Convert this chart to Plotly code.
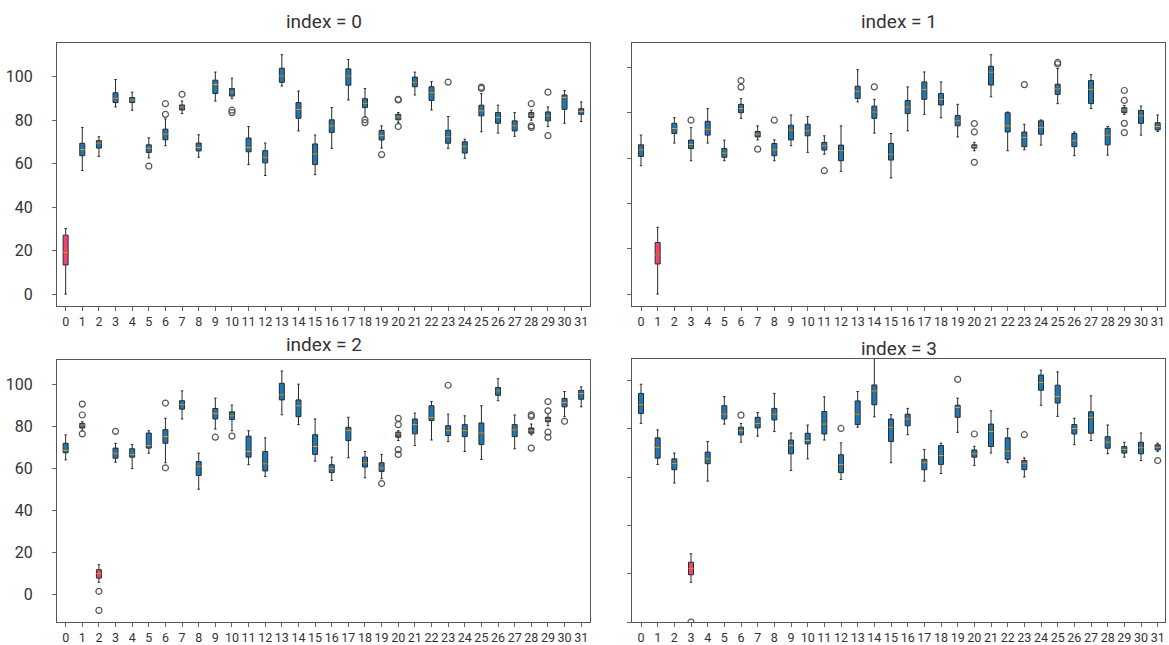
import plotly.graph_objects as go

cats = list(range(32))
tick_text = [str(c) for c in cats]
titles = ["index = 0", "index = 1", "index = 2", "index = 3"]

# ---- panel 0 ----
p0_q1 = [13.4, 63.6, 67.1, 88.0, 88.0, 65.1, 70.9, 84.6, 65.8, 92.2, 91.0, 65.4, 60.3, 97.3, 80.8, 59.5, 74.3, 96.0, 85.7, 70.8, 80.1, 95.3, 89.0, 69.3, 64.8, 81.9, 78.5, 75.0, 81.1, 79.6, 84.9, 82.6]
p0_med = [19.2, 66.4, 69.4, 90.0, 89.2, 67.0, 73.5, 86.0, 67.4, 96.3, 92.8, 67.4, 62.9, 100.2, 84.9, 64.4, 77.3, 100.2, 87.7, 72.8, 81.4, 97.4, 92.5, 72.3, 67.7, 84.2, 81.1, 77.3, 82.2, 81.9, 90.3, 83.9]
p0_q3 = [27.1, 69.3, 70.5, 92.5, 90.3, 68.6, 75.8, 86.9, 69.4, 98.3, 94.5, 71.7, 65.9, 103.8, 88.0, 69.0, 80.1, 103.5, 89.8, 75.2, 82.6, 99.7, 95.3, 75.3, 70.0, 86.8, 83.4, 79.6, 83.4, 83.7, 91.5, 85.2]
p0_lo = [0.0, 56.8, 63.3, 86.0, 84.5, 62.6, 68.2, 83.0, 62.9, 88.7, 89.8, 59.5, 54.5, 95.6, 75.0, 54.9, 67.0, 89.2, 81.6, 67.1, 78.8, 91.5, 84.6, 67.0, 62.4, 74.6, 74.0, 72.5, 79.9, 77.0, 78.5, 79.3]
p0_hi = [30.1, 76.6, 72.3, 98.6, 92.8, 71.8, 80.5, 88.7, 73.2, 102.0, 99.2, 77.0, 69.4, 110.0, 93.3, 73.1, 85.7, 107.8, 94.5, 77.3, 83.4, 102.0, 97.6, 81.6, 71.2, 92.1, 86.8, 83.4, 84.5, 86.0, 93.5, 88.3]
p0_out_x = [5, 6, 6, 7, 10, 10, 18, 18, 19, 20, 20, 20, 23, 25, 25, 28, 28, 28, 29, 29]
p0_out_y = [58.8, 82.6, 87.5, 91.8, 84.5, 83.4, 80.1, 78.8, 64.1, 89.5, 89.2, 77.0, 97.4, 95.1, 94.5, 87.5, 77.3, 76.6, 92.8, 72.8]

# ---- panel 1 ----
p1_q1 = [60.8, 13.3, 70.9, 64.3, 70.2, 60.4, 80.1, 69.4, 61.1, 68.1, 69.9, 63.6, 58.9, 86.4, 77.6, 59.2, 79.7, 86.0, 83.5, 74.3, 64.5, 92.3, 71.6, 65.1, 70.6, 88.2, 65.1, 84.1, 65.9, 80.1, 75.4, 72.5]
p1_med = [63.7, 17.3, 73.1, 66.1, 72.8, 62.3, 81.9, 70.6, 63.7, 72.5, 72.1, 65.5, 63.3, 89.6, 80.4, 61.8, 82.6, 90.4, 86.0, 76.5, 65.2, 98.0, 74.3, 69.2, 73.5, 90.6, 67.7, 90.4, 70.2, 81.3, 78.7, 74.0]
p1_q3 = [65.9, 22.8, 75.4, 68.0, 76.3, 64.3, 83.8, 71.8, 66.5, 74.6, 75.0, 67.0, 65.8, 91.8, 83.0, 66.5, 85.5, 93.7, 88.6, 78.9, 65.9, 100.6, 80.1, 71.6, 76.5, 92.7, 70.9, 94.3, 73.2, 82.3, 81.1, 75.7]
p1_lo = [56.7, 0.0, 66.7, 58.9, 66.7, 58.9, 77.6, 68.1, 58.9, 65.5, 62.6, 61.8, 54.2, 84.9, 71.1, 51.3, 72.1, 79.4, 77.9, 69.4, 63.3, 87.1, 63.3, 63.7, 65.8, 84.1, 61.1, 82.0, 61.4, 79.4, 70.2, 71.8]
p1_hi = [70.2, 29.5, 77.9, 73.5, 81.9, 68.0, 86.3, 74.3, 68.1, 79.1, 78.4, 69.9, 74.3, 99.1, 86.0, 70.9, 91.5, 98.1, 93.7, 83.8, 67.0, 105.7, 80.4, 75.0, 76.9, 99.6, 71.6, 96.9, 74.0, 83.3, 83.0, 79.1]
p1_out_x = [3, 6, 6, 7, 8, 11, 14, 20, 20, 20, 23, 25, 25, 29, 29, 29, 29]
p1_out_y = [76.8, 94.3, 91.4, 64.0, 76.8, 54.5, 91.5, 75.3, 71.6, 58.2, 92.5, 102.3, 101.6, 89.9, 85.5, 75.4, 71.3]

# ---- panel 2 ----
p2_q1 = [67.5, 79.3, 7.7, 64.9, 65.4, 69.7, 72.0, 88.3, 56.7, 83.6, 83.3, 65.4, 58.8, 92.7, 84.7, 66.7, 58.0, 73.3, 60.7, 58.6, 74.9, 76.5, 82.8, 75.7, 75.2, 71.4, 94.9, 75.2, 76.8, 82.3, 89.4, 93.0]
p2_med = [68.6, 80.7, 9.8, 67.3, 66.7, 70.9, 75.2, 90.4, 61.1, 86.3, 85.1, 68.1, 62.2, 95.1, 89.9, 70.5, 59.9, 78.0, 62.7, 60.2, 76.5, 80.9, 84.4, 78.0, 78.0, 76.9, 97.0, 78.4, 78.0, 83.4, 91.5, 95.7]
p2_q3 = [72.0, 81.5, 11.7, 69.7, 69.4, 76.9, 78.5, 92.3, 63.3, 88.6, 87.0, 75.4, 68.1, 100.6, 92.7, 76.1, 61.8, 79.6, 65.4, 62.7, 77.3, 83.6, 89.9, 80.4, 80.9, 81.7, 98.6, 80.9, 79.3, 84.4, 93.4, 97.3]
p2_lo = [64.1, 78.0, 5.7, 63.0, 59.9, 67.3, 62.7, 83.6, 50.1, 78.8, 78.0, 61.8, 56.2, 85.6, 80.9, 63.5, 54.3, 65.1, 55.6, 55.1, 73.3, 70.9, 73.6, 72.8, 68.1, 64.3, 92.3, 69.4, 76.0, 80.4, 84.7, 89.4]
p2_hi = [76.0, 82.3, 14.1, 72.0, 71.4, 78.0, 83.9, 97.0, 67.3, 93.5, 90.2, 78.0, 74.6, 106.5, 100.2, 83.6, 65.4, 84.4, 68.1, 66.7, 78.0, 86.4, 91.9, 85.9, 85.1, 89.9, 102.8, 85.5, 81.2, 86.3, 96.7, 98.9]
p2_out_x = [1, 1, 1, 2, 2, 3, 6, 6, 9, 10, 19, 20, 20, 20, 20, 23, 28, 28, 28, 29, 29, 29, 29, 30]
p2_out_y = [90.7, 85.5, 76.5, 1.4, -7.7, 77.7, 91.2, 60.3, 74.9, 75.4, 52.8, 83.9, 80.9, 69.0, 66.7, 99.7, 85.6, 84.8, 69.7, 91.9, 87.5, 77.3, 74.9, 82.5]

# ---- panel 3 ----
p3_q1 = [86.4, 67.9, 63.1, 19.6, 65.6, 84.1, 77.5, 80.4, 83.7, 69.7, 73.8, 77.9, 61.9, 81.8, 90.0, 74.8, 81.3, 63.1, 65.3, 84.8, 68.3, 72.7, 67.4, 63.1, 96.0, 90.7, 77.9, 78.2, 72.0, 70.0, 69.7, 71.3]
p3_med = [90.0, 72.4, 65.6, 22.1, 67.6, 86.1, 79.3, 82.3, 86.1, 73.1, 75.2, 82.0, 65.3, 86.1, 95.7, 80.7, 84.1, 66.0, 69.0, 88.9, 69.7, 78.9, 70.8, 65.8, 99.2, 93.4, 80.2, 84.8, 74.5, 71.5, 72.2, 72.4]
p3_q3 = [94.7, 76.3, 67.6, 24.8, 70.4, 89.6, 80.7, 84.8, 88.5, 75.4, 78.2, 87.2, 69.3, 91.6, 98.2, 84.1, 86.1, 67.4, 73.1, 89.8, 71.3, 82.0, 76.3, 66.9, 102.3, 98.1, 81.8, 87.1, 76.8, 72.7, 74.5, 73.4]
p3_lo = [82.3, 65.3, 57.6, 16.5, 58.4, 82.0, 74.5, 77.0, 78.9, 62.8, 67.6, 75.4, 59.1, 80.7, 85.0, 66.0, 77.6, 58.4, 61.5, 78.6, 64.9, 70.0, 66.0, 60.1, 89.8, 85.2, 73.5, 75.2, 69.7, 68.3, 66.9, 70.6]
p3_hi = [98.5, 79.6, 70.0, 28.3, 74.8, 93.4, 82.3, 86.8, 94.7, 78.3, 81.6, 93.3, 74.2, 95.5, 110.0, 85.9, 88.5, 71.5, 74.1, 92.7, 72.8, 87.5, 80.2, 68.0, 104.3, 103.6, 84.4, 93.7, 81.6, 74.5, 78.3, 74.1]
p3_out_x = [3, 6, 12, 19, 20, 23, 31]
p3_out_y = [0.0, 85.7, 80.2, 100.5, 77.9, 77.6, 66.9]

panels = [
    (p0_q1, p0_med, p0_q3, p0_lo, p0_hi, p0_out_x, p0_out_y),
    (p1_q1, p1_med, p1_q3, p1_lo, p1_hi, p1_out_x, p1_out_y),
    (p2_q1, p2_med, p2_q3, p2_lo, p2_hi, p2_out_x, p2_out_y),
    (p3_q1, p3_med, p3_q3, p3_lo, p3_hi, p3_out_x, p3_out_y),
]

W, H = 1169, 645
# plot areas in pixels (left, right, top, bottom)
areas = [(57, 590, 43, 308), (632, 1165, 43, 308), (57, 590, 362, 626), (632, 1165, 361, 626)]
xranges = [[-0.52, 31.53], [-0.54, 31.44], [-0.52, 31.53], [-0.54, 31.44]]
yranges = [[-5.5, 115.5], [-5.3, 111.0], [-13.3, 111.85], [0.0, 109.05]]
title_y_px = [22, 22, 347, 351]

BLUE = "#1f77b4"
RED = "#f0456f"
EDGE = "#2a2a2a"
MED = "#f5a31c"
BW = 0.3

fig = go.Figure()
layout = dict(
    width=W, height=H, margin=dict(l=0, r=0, t=0, b=0),
    paper_bgcolor="white", plot_bgcolor="white", showlegend=False,
    boxmode="overlay", font=dict(family="Roboto, Noto Sans, sans-serif", color="#333333"),
    annotations=[],
)

for k, (q1, med, q3, lo, hi, ox, oy) in enumerate(panels):
    sfx = "" if k == 0 else str(k + 1)
    xa, ya = "x" + sfx, "y" + sfx
    for idxs, col in (([c for c in cats if c != k], BLUE), ([k], RED)):
        fig.add_trace(go.Box(
            x=idxs,
            q1=[q1[i] for i in idxs], median=[med[i] for i in idxs], q3=[q3[i] for i in idxs],
            lowerfence=[lo[i] for i in idxs], upperfence=[hi[i] for i in idxs],
            width=BW, whiskerwidth=0.5, fillcolor=col,
            line=dict(color=EDGE, width=1), boxpoints=False,
            xaxis=xa, yaxis=ya, hoverinfo="skip",
        ))
    mx, my = [], []
    for i in cats:
        mx += [i - BW / 2, i + BW / 2, None]
        my += [med[i], med[i], None]
    fig.add_trace(go.Scatter(x=mx, y=my, mode="lines", line=dict(color=MED, width=1),
                             xaxis=xa, yaxis=ya, hoverinfo="skip"))
    fig.add_trace(go.Scatter(x=ox, y=oy, mode="markers",
                             marker=dict(symbol="circle-open", size=6, color="#555555", line=dict(width=1.2)),
                             xaxis=xa, yaxis=ya, hoverinfo="skip"))

    l, r, t, b = areas[k]
    axis_common = dict(showline=True, linecolor="#555555", linewidth=1, mirror=True,
                       showgrid=False, zeroline=False, ticks="outside", ticklen=4,
                       tickcolor="#666666", tickwidth=1)
    layout["xaxis" + sfx] = dict(
        domain=[l / W, r / W], anchor=ya, range=xranges[k],
        tickmode="array", tickvals=cats, ticktext=tick_text, tickangle=0,
        tickfont=dict(size=12.5, color="#333333"), **axis_common)
    layout["yaxis" + sfx] = dict(
        domain=[1 - b / H, 1 - t / H], anchor=xa, range=yranges[k],
        tickmode="array", tickvals=[0, 20, 40, 60, 80, 100],
        showticklabels=(k % 2 == 0), tickfont=dict(size=16, color="#333333"),
        ticklabelstandoff=16, **axis_common)
    layout["annotations"].append(dict(
        text=titles[k], xref="paper", yref="paper", x=(l + r) / 2 / W, y=1 - title_y_px[k] / H,
        xanchor="center", yanchor="middle", showarrow=False, font=dict(size=19, color="#333333")))

fig.update_layout(**layout)
fig.write_html("out.html", config={"displayModeBar": False},
               post_script="document.body.style.margin='0px';document.body.style.overflow='hidden';")
